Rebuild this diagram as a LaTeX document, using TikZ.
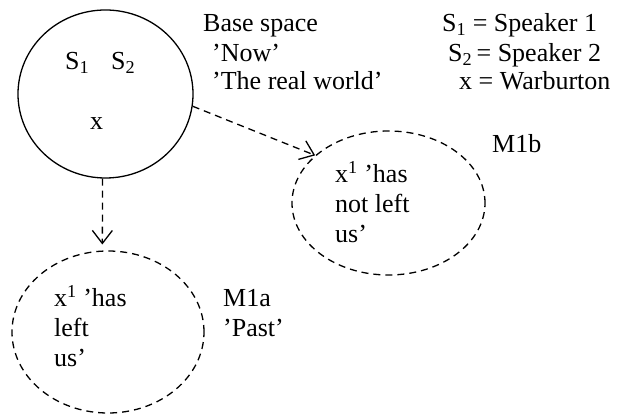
\documentclass[tikz,border=0pt]{standalone}
\usepackage{fontspec}
\setmainfont{Liberation Serif}
\usetikzlibrary{shapes.geometric,arrows.meta}
\tikzset{
  space/.style={ellipse, draw, line width=1.3pt, inner sep=0pt},
  mental/.style={space, dash pattern=on 7pt off 5pt},
  txt/.style={anchor=base west, inner sep=0pt, font=\fontsize{26}{30}\selectfont},
  link/.style={line width=1.3pt, dash pattern=on 7pt off 5pt, -{Straight Barb[length=13pt,width=20pt,line width=1.3pt]}}
}
\begin{document}
\begin{tikzpicture}[x=1pt,y=-1pt]
\useasboundingbox (0,0) rectangle (619,419);
% spaces
\node[space, minimum width=175pt, minimum height=168pt] (base) at (105.5,94) {};
\node[mental, minimum width=193pt, minimum height=144pt] (m1b) at (388.5,203) {};
\node[mental, minimum width=192pt, minimum height=162pt] (m1a) at (108,332) {};
% base space content
\node[txt] (s1) at (65,70) {S\textsubscript{1}};
\node[txt] (s2) at (111,70) {S\textsubscript{2}};
\node[txt] (x) at (90,130) {x};
% base space labels
\node[txt] (bs1) at (203,32) {Base space};
\node[txt] (bs2) at (212,62) {’Now’};
\node[txt] (bs3) at (212,90) {’The real world’};
% legend
\node[txt] (lg1) at (442,32) {S\textsubscript{1} = Speaker 1};
\node[txt] (lg2) at (448,62) {S\textsubscript{2}\,= Speaker 2};
\node[txt] (lg3) at (459,90) {x = Warburton};
% M1b
\node[txt] (m1bl) at (492,153) {M1b};
\node[txt] (b1) at (335,183) {x\textsuperscript{1} ’has};
\node[txt] (b2) at (335,213) {not left};
\node[txt] (b3) at (335,243) {us’};
% M1a
\node[txt] (a1) at (54,307) {x\textsuperscript{1} ’has};
\node[txt] (a2) at (54,337) {left};
\node[txt] (a3) at (54,367) {us’};
\node[txt] (m1al) at (223,307) {M1a};
\node[txt] (m1ap) at (223,337) {’Past’};
% connectors
\draw[link] (base.-8.5) -- (m1b.147);
\draw[link, shorten >=6pt] (base.-92) -- (m1a.94);
\end{tikzpicture}
\end{document}
